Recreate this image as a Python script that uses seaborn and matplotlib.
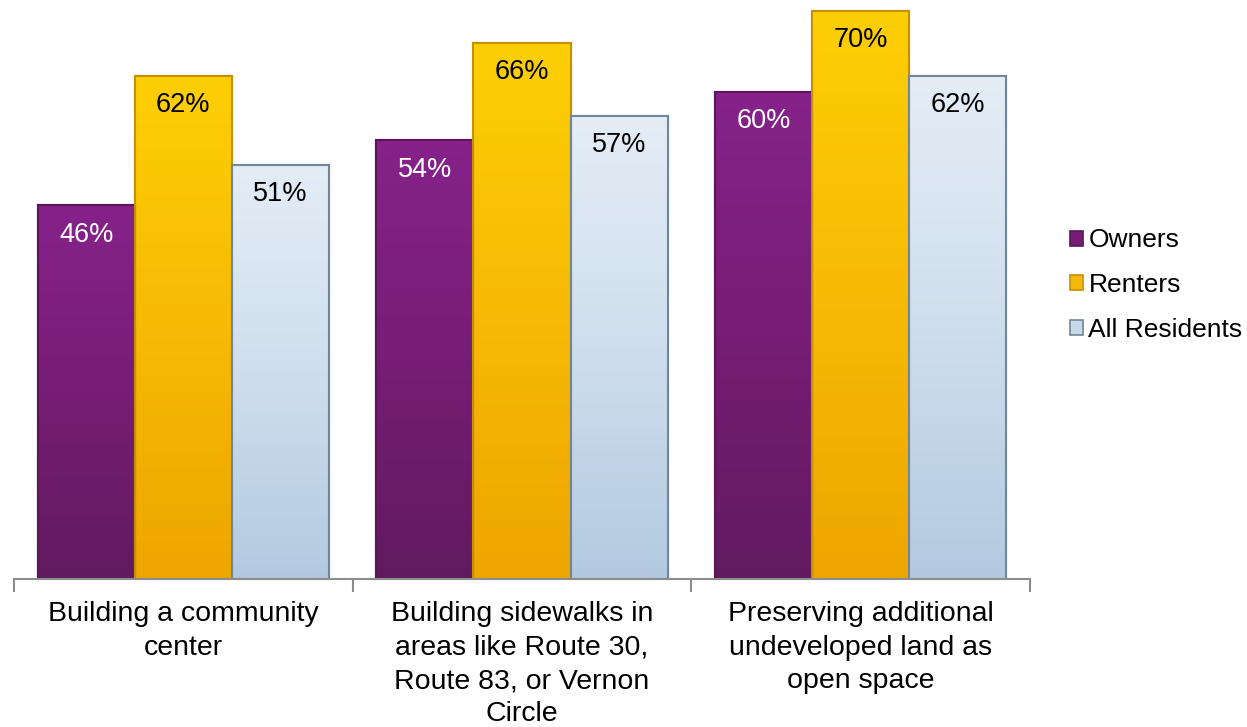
import matplotlib
matplotlib.use("Agg")
import matplotlib.pyplot as plt
import seaborn as sns
import numpy as np
import pandas as pd
from matplotlib.colors import LinearSegmentedColormap
from matplotlib.patches import Rectangle

categories = [
    "Building a community\ncenter",
    "Building sidewalks in\nareas like Route 30,\nRoute 83, or Vernon\nCircle",
    "Preserving additional\nundeveloped land as\nopen space",
]
groups = ["Owners", "Renters", "All Residents"]
owners = [46, 54, 60]
renters = [62, 66, 70]
all_residents = [51, 57, 62]

colors = {"Owners": "#761c74", "Renters": "#f6b80a", "All Residents": "#c8d9ea"}
# top -> bottom shading for each series
shades = {
    "Owners": ["#86228a", "#771d75", "#611a5f"],
    "Renters": ["#fdcf05", "#f7ba06", "#eea600"],
    "All Residents": ["#e4edf6", "#cfdeed", "#b2cae0"],
}
edges = {"Owners": "#5a1658", "Renters": "#c79000", "All Residents": "#6f8798"}
label_colors = {"Owners": "white", "Renters": "black", "All Residents": "black"}

df = pd.DataFrame({
    "category": categories * 3,
    "group": [g for g in groups for _ in categories],
    "value": owners + renters + all_residents,
})

sns.set_theme(style="white")
plt.rcParams["font.family"] = ["Liberation Sans", "DejaVu Sans"]
plt.rcParams["text.color"] = "black"
plt.rcParams["xtick.color"] = "black"

fig = plt.figure(figsize=(12.47, 7.27), dpi=100)
ax = fig.add_axes([0.0112, 0.2036, 0.8148, 0.7964])

sns.barplot(data=df, x="category", y="value", hue="group", order=categories,
            hue_order=groups, palette=colors, width=0.86, ax=ax,
            legend=False, saturation=1)

ax.set_xlim(-0.5, 2.5)
ax.set_ylim(0, 71.3)

grad = np.linspace(0, 1, 256).reshape(-1, 1)
for container, g in zip(ax.containers, groups):
    cmap = LinearSegmentedColormap.from_list(g, shades[g])
    for bar in container:
        bar.set_edgecolor(edges[g])
        bar.set_linewidth(1.5)
        x0, w, h = bar.get_x(), bar.get_width(), bar.get_height()
        im = ax.imshow(grad, cmap=cmap, aspect="auto", origin="upper",
                       extent=[x0, x0 + w, 0, h], zorder=bar.get_zorder() + 0.1)
        im.set_clip_path(bar)
        outline = Rectangle((x0, 0), w, h, facecolor="none", edgecolor=edges[g],
                            linewidth=1.5, zorder=bar.get_zorder() + 0.2)
        ax.add_patch(outline)
        ax.text(x0 + w / 2, h - 3.6, f"{h:.0f}%", ha="center", va="center",
                fontsize=19.5, color=label_colors[g], zorder=5)

ax.set_xlim(-0.5, 2.5)
ax.set_ylim(0, 71.3)
ax.set_xlabel("")
ax.set_ylabel("")
ax.set_yticks([])
for s in ["top", "right", "left"]:
    ax.spines[s].set_visible(False)
ax.spines["bottom"].set_color("#8c8c8c")
ax.spines["bottom"].set_linewidth(1.5)
ax.spines["bottom"].set_zorder(6)

ax.set_xticks([-0.5, 0.5, 1.5, 2.5], minor=True)
ax.tick_params(axis="x", which="minor", length=9, width=1.5, color="#8c8c8c", bottom=True)
ax.tick_params(axis="x", which="major", length=0, pad=16, labelsize=20.5)
for lbl in ax.get_xticklabels():
    lbl.set_linespacing(1.37)
    lbl.set_verticalalignment("top")

handles = [Rectangle((0, 0), 1, 1, facecolor=colors[g], edgecolor=edges[g], linewidth=1.2)
           for g in groups]
fig.legend(handles, groups, loc="center left", bbox_to_anchor=(0.858, 0.608),
           frameon=False, fontsize=19, handlelength=0.5, handleheight=0.5,
           handletextpad=0.2, labelspacing=0.78, borderaxespad=0, borderpad=0)

fig.savefig("out.png", dpi=100)
